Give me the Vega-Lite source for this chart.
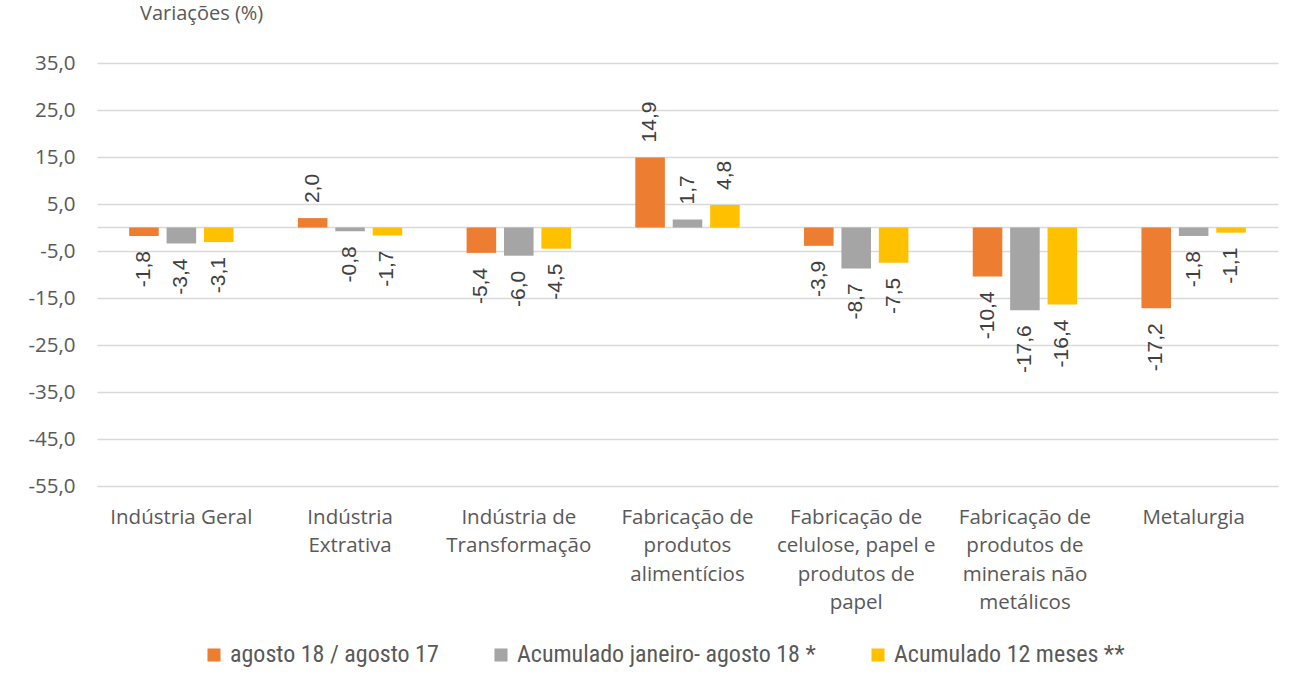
{
  "$schema": "https://vega.github.io/schema/vega-lite/v6.json",
  "autosize": {"type": "none"},
  "width": 1181,
  "height": 423,
  "padding": {"left": 97, "top": 63, "right": 17, "bottom": 202},
  "background": "white",
  "title": {
    "text": "Variações (%)",
    "anchor": "start",
    "frame": "group",
    "dx": 43,
    "baseline": "alphabetic",
    "offset": 13,
    "font": "Open Sans",
    "fontSize": 20,
    "fontWeight": "normal",
    "color": "#595959"
  },
  "config": {
    "view": {"stroke": null},
    "locale": {
      "number": {"decimal": ",", "thousands": ".", "grouping": [3], "currency": ["R$", ""], "minus": "-"}
    }
  },
  "data": {
    "values": [
      {"categoria": "Indústria Geral", "serie": "agosto 18 / agosto 17", "valor": -1.8},
      {"categoria": "Indústria Geral", "serie": "Acumulado janeiro- agosto 18 *", "valor": -3.4},
      {"categoria": "Indústria Geral", "serie": "Acumulado 12 meses **", "valor": -3.1},
      {"categoria": "Indústria Extrativa", "serie": "agosto 18 / agosto 17", "valor": 2.0},
      {"categoria": "Indústria Extrativa", "serie": "Acumulado janeiro- agosto 18 *", "valor": -0.8},
      {"categoria": "Indústria Extrativa", "serie": "Acumulado 12 meses **", "valor": -1.7},
      {"categoria": "Indústria de Transformação", "serie": "agosto 18 / agosto 17", "valor": -5.4},
      {"categoria": "Indústria de Transformação", "serie": "Acumulado janeiro- agosto 18 *", "valor": -6.0},
      {"categoria": "Indústria de Transformação", "serie": "Acumulado 12 meses **", "valor": -4.5},
      {"categoria": "Fabricação de produtos alimentícios", "serie": "agosto 18 / agosto 17", "valor": 14.9},
      {"categoria": "Fabricação de produtos alimentícios", "serie": "Acumulado janeiro- agosto 18 *", "valor": 1.7},
      {"categoria": "Fabricação de produtos alimentícios", "serie": "Acumulado 12 meses **", "valor": 4.8},
      {"categoria": "Fabricação de celulose, papel e produtos de papel", "serie": "agosto 18 / agosto 17", "valor": -3.9},
      {"categoria": "Fabricação de celulose, papel e produtos de papel", "serie": "Acumulado janeiro- agosto 18 *", "valor": -8.7},
      {"categoria": "Fabricação de celulose, papel e produtos de papel", "serie": "Acumulado 12 meses **", "valor": -7.5},
      {"categoria": "Fabricação de produtos de minerais não metálicos", "serie": "agosto 18 / agosto 17", "valor": -10.4},
      {"categoria": "Fabricação de produtos de minerais não metálicos", "serie": "Acumulado janeiro- agosto 18 *", "valor": -17.6},
      {"categoria": "Fabricação de produtos de minerais não metálicos", "serie": "Acumulado 12 meses **", "valor": -16.4},
      {"categoria": "Metalurgia", "serie": "agosto 18 / agosto 17", "valor": -17.2},
      {"categoria": "Metalurgia", "serie": "Acumulado janeiro- agosto 18 *", "valor": -1.8},
      {"categoria": "Metalurgia", "serie": "Acumulado 12 meses **", "valor": -1.1}
    ]
  },
  "encoding": {
    "x": {
      "field": "categoria",
      "type": "nominal",
      "sort": null,
      "scale": {"paddingInner": 0, "paddingOuter": 0},
      "axis": {
        "title": null,
        "domain": false,
        "ticks": false,
        "labelAngle": 0,
        "labelFont": "Open Sans",
        "labelFontSize": 20.5,
        "labelColor": "#595959",
        "labelPadding": 21,
        "labelLineHeight": 28.5,
        "labelLimit": 400,
        "labelExpr": "datum.label == 'Indústria Extrativa' ? ['Indústria', 'Extrativa'] : datum.label == 'Indústria de Transformação' ? ['Indústria de', 'Transformação'] : datum.label == 'Fabricação de produtos alimentícios' ? ['Fabricação de', 'produtos', 'alimentícios'] : datum.label == 'Fabricação de celulose, papel e produtos de papel' ? ['Fabricação de', 'celulose, papel e', 'produtos de', 'papel'] : datum.label == 'Fabricação de produtos de minerais não metálicos' ? ['Fabricação de', 'produtos de', 'minerais não', 'metálicos'] : datum.label"
      }
    },
    "xOffset": {
      "field": "serie",
      "type": "nominal",
      "sort": ["agosto 18 / agosto 17", "Acumulado janeiro- agosto 18 *", "Acumulado 12 meses **"],
      "scale": {"paddingInner": 0.21, "paddingOuter": 0.86}
    },
    "y": {
      "field": "valor",
      "type": "quantitative",
      "scale": {"domain": [-55, 35], "nice": false, "zero": false},
      "axis": {
        "title": null,
        "domain": false,
        "ticks": false,
        "values": [-55, -45, -35, -25, -15, -5, 0, 5, 15, 25, 35],
        "format": ".1f",
        "labelExpr": "datum.value == 0 ? '' : datum.label",
        "labelFont": "Open Sans",
        "labelFontSize": 20.5,
        "labelColor": "#595959",
        "labelPadding": 22,
        "grid": true,
        "gridColor": "#d9d9d9",
        "gridWidth": 1.3
      }
    }
  },
  "layer": [
    {
      "mark": {"type": "bar"},
      "encoding": {
        "color": {
          "field": "serie",
          "type": "nominal",
          "scale": {
            "domain": ["agosto 18 / agosto 17", "Acumulado janeiro- agosto 18 *", "Acumulado 12 meses **"],
            "range": ["#ED7D31", "#A5A5A5", "#FFC000"]
          },
          "legend": {
            "title": null,
            "orient": "none",
            "legendX": 105,
            "legendY": 580,
            "direction": "horizontal",
            "symbolType": "square",
            "symbolSize": 170,
            "symbolStrokeWidth": 0,
            "labelFont": "Roboto Condensed, Roboto",
            "labelFontSize": 24,
            "labelColor": "#595959",
            "labelOffset": 4,
            "labelLimit": 400,
            "columnPadding": 50
          }
        }
      }
    },
    {
      "transform": [{"filter": "datum.valor >= 0"}],
      "mark": {"type": "text", "angle": -90, "align": "left", "baseline": "middle", "dx": 15, "font": "Liberation Sans", "fontSize": 21, "color": "#404040"},
      "encoding": {
        "text": {"field": "valor", "type": "quantitative", "format": ".1f"}
      }
    },
    {
      "transform": [{"filter": "datum.valor < 0"}],
      "mark": {"type": "text", "angle": -90, "align": "right", "baseline": "middle", "dx": -15, "font": "Liberation Sans", "fontSize": 21, "color": "#404040"},
      "encoding": {
        "text": {"field": "valor", "type": "quantitative", "format": ".1f"}
      }
    }
  ]
}
